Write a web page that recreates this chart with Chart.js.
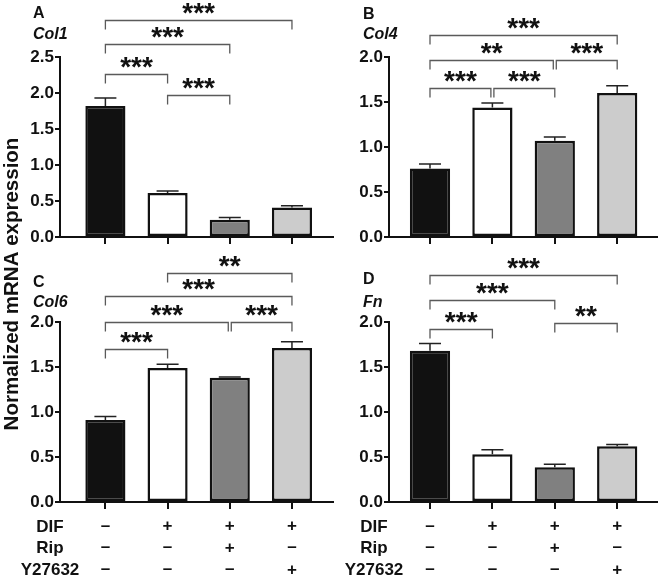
<!DOCTYPE html>
<html>
<head>
<meta charset="utf-8">
<script src="https://cdn.jsdelivr.net/npm/chart.js@4.4.1/dist/chart.umd.min.js"></script>
<style>
  body { margin: 0; background: #fff; }
  #wrap { position: relative; width: 660px; height: 577px; overflow: hidden; }
  #wrap canvas { position: absolute; left: 0; top: 0; }
</style>
</head>
<body>
<div id="wrap">
  <canvas id="cA" width="660" height="577"></canvas>
  <canvas id="cB" width="660" height="577"></canvas>
  <canvas id="cC" width="660" height="577"></canvas>
  <canvas id="cD" width="660" height="577"></canvas>
</div>
<script>
// groups: control, DIF, DIF+Rip, DIF+Y27632
const groups = ['Control', 'DIF', 'DIF + Rip', 'DIF + Y27632'];
const barColors = ['#111111', '#ffffff', '#808080', '#cccccc'];

const col1Mean = [1.82, 0.61, 0.24, 0.41];
const col1Sem  = [0.11, 0.03, 0.03, 0.025];
const col4Mean = [0.76, 1.44, 1.07, 1.60];
const col4Sem  = [0.05, 0.05, 0.04, 0.08];
const col6Mean = [0.91, 1.49, 1.38, 1.71];
const col6Sem  = [0.04, 0.04, 0.01, 0.07];
const fnMean   = [1.68, 0.53, 0.385, 0.62];
const fnSem    = [0.08, 0.05, 0.035, 0.02];

// significance brackets: [from group, to group, height (axis units), label]
const col1Sig = [[0, 3, 3.02, '***'], [0, 2, 2.68, '***'], [0, 1, 2.26, '***'], [1, 2, 1.97, '***']];
const col4Sig = [[0, 3, 2.25, '***'], [0, 2, 1.97, '**'], [2, 3, 1.97, '***'], [0, 1, 1.66, '***'], [1, 2, 1.66, '***']];
const col6Sig = [[1, 3, 2.54, '**'], [0, 3, 2.29, '***'], [0, 2, 2.0, '***'], [2, 3, 2.0, '***'], [0, 1, 1.70, '***']];
const fnSig   = [[0, 3, 2.52, '***'], [0, 2, 2.24, '***'], [0, 1, 1.92, '***'], [2, 3, 1.99, '**']];

const yTicksCol1 = [0, 0.5, 1.0, 1.5, 2.0, 2.5];
const yTicks     = [0, 0.5, 1.0, 1.5, 2.0];

// treatment table under the lower panels
const rowNames = ['DIF', 'Rip', 'Y27632'];
const difRow = ['–', '+', '+', '+'];
const ripRow = ['–', '–', '+', '–'];
const y27Row = ['–', '–', '–', '+'];

const yTitle = 'Normalized mRNA expression';

const FONT = '"Liberation Sans", Arial, Helvetica, sans-serif';
const INK = '#111';

// text centred on the ink of refText (caps by default)
function drawText(ctx, text, x, cy, align, font, refText) {
  ctx.font = font;
  ctx.textAlign = align;
  ctx.textBaseline = 'alphabetic';
  const m = ctx.measureText(refText || text);
  ctx.fillText(text, x, cy + (m.actualBoundingBoxAscent - m.actualBoundingBoxDescent) / 2);
}

function makeDecor(p) {
  return {
    id: 'decor' + p.letter,
    afterDatasetsDraw(chart) {
      const ctx = chart.ctx;
      const xs = chart.scales.x, ys = chart.scales.y;
      ctx.save();
      // error bars (upper only)
      ctx.strokeStyle = '#222';
      ctx.lineWidth = 1.5;
      p.mean.forEach((m, i) => {
        const x = xs.getPixelForValue(i);
        const y0 = ys.getPixelForValue(m);
        const y1 = ys.getPixelForValue(m + p.sem[i]);
        ctx.beginPath();
        ctx.moveTo(x, y0); ctx.lineTo(x, y1);
        ctx.moveTo(x - 11, y1); ctx.lineTo(x + 11, y1);
        ctx.stroke();
      });
      ctx.restore();
    },
    afterDraw(chart) {
      const ctx = chart.ctx;
      const xs = chart.scales.x, ys = chart.scales.y;
      ctx.save();
      ctx.fillStyle = INK;
      // panel letter and gene name
      drawText(ctx, p.letter, p.labelX, p.letterY, 'left', 'bold 16px ' + FONT, 'H');
      drawText(ctx, p.gene, p.labelX, p.geneY, 'left', 'italic bold 16px ' + FONT, 'H');

      // brackets
      ctx.strokeStyle = '#5a5a5a';
      ctx.lineWidth = 1.3;
      p.sig.forEach(([a, b, h, label]) => {
        const shared = (idx) => p.sig.some(s => s[2] === h && ((s[0] === idx && s[1] !== b) || (s[1] === idx && s[0] !== a)));
        let xa = xs.getPixelForValue(a);
        let xb = xs.getPixelForValue(b);
        if (shared(a)) xa += 1.5;
        if (shared(b)) xb -= 1.5;
        const y = Math.round(ys.getPixelForValue(h)) + 0.5;
        ctx.beginPath();
        ctx.moveTo(xa, y + 9); ctx.lineTo(xa, y); ctx.lineTo(xb, y); ctx.lineTo(xb, y + 9);
        ctx.stroke();
        drawText(ctx, label, (xa + xb) / 2, y - 12.5, 'center', 'bold 28px ' + FONT, '*');
      });

      // treatment table
      if (p.table) {
        const rows = [difRow, ripRow, y27Row];
        const rowY = [525.5, 547, 569];
        rows.forEach((row, r) => {
          drawText(ctx, rowNames[r], p.tableLabelX, rowY[r], 'center', 'bold 17px ' + FONT, 'H');
          row.forEach((s, i) => {
            drawText(ctx, s, xs.getPixelForValue(i), rowY[r], 'center', 'bold 17px ' + FONT);
          });
        });
      }

      // shared y-axis title
      if (p.yTitle) {
        ctx.translate(11, 284);
        ctx.rotate(-Math.PI / 2);
        drawText(ctx, yTitle, 0, 0, 'center', 'bold 20.5px ' + FONT, 'H');
      }
      ctx.restore();
    }
  };
}

const panels = [
  { canvas: 'cA', letter: 'A', gene: 'Col1', mean: col1Mean, sem: col1Sem, sig: col1Sig, ticks: yTicksCol1,
    area: { left: 60, top: 57, right: 333, bottom: 237 }, xMin: -0.73, xMax: 3.66,
    labelX: 33, letterY: 12, geneY: 32.5, table: false, yTitle: true },
  { canvas: 'cB', letter: 'B', gene: 'Col4', mean: col4Mean, sem: col4Sem, sig: col4Sig, ticks: yTicks,
    area: { left: 389, top: 57, right: 657, bottom: 237 }, xMin: -0.657, xMax: 3.638,
    labelX: 363, letterY: 12.5, geneY: 33, table: false },
  { canvas: 'cC', letter: 'C', gene: 'Col6', mean: col6Mean, sem: col6Sem, sig: col6Sig, ticks: yTicks,
    area: { left: 60, top: 322, right: 333, bottom: 502 }, xMin: -0.73, xMax: 3.66,
    labelX: 33, letterY: 281, geneY: 301, table: true, tableLabelX: 50 },
  { canvas: 'cD', letter: 'D', gene: 'Fn', mean: fnMean, sem: fnSem, sig: fnSig, ticks: yTicks,
    area: { left: 389, top: 322, right: 657, bottom: 502 }, xMin: -0.657, xMax: 3.638,
    labelX: 363, letterY: 277.5, geneY: 300.5, table: true, tableLabelX: 374 }
];

const Y_W = 40, X_H = 10;

panels.forEach(p => {
  const ticks = p.ticks;
  new Chart(document.getElementById(p.canvas), {
    type: 'bar',
    data: {
      datasets: [{
        label: p.gene,
        data: p.mean.map((v, i) => ({ x: i, y: v })),
        backgroundColor: barColors,
        borderColor: '#111',
        borderWidth: 2.5,
        borderSkipped: false,
        categoryPercentage: 1,
        barPercentage: 0.645
      }]
    },
    options: {
      responsive: false,
      animation: false,
      events: [],
      layout: {
        padding: {
          left: p.area.left - Y_W,
          top: p.area.top,
          right: 660 - p.area.right,
          bottom: 577 - p.area.bottom - X_H
        }
      },
      plugins: { legend: { display: false }, tooltip: { enabled: false } },
      scales: {
        x: {
          type: 'linear',
          offset: false,
          min: p.xMin,
          max: p.xMax,
          afterBuildTicks: s => { s.ticks = groups.map((g, i) => ({ value: i })); },
          afterFit: s => { s.height = X_H; },
          ticks: { display: false },
          grid: { offset: false, drawOnChartArea: false, drawTicks: true, tickLength: 7, color: INK, lineWidth: 2 },
          border: { display: true, color: INK, width: 2 }
        },
        y: {
          min: 0,
          max: ticks[ticks.length - 1],
          afterBuildTicks: s => { s.ticks = ticks.map(v => ({ value: v })); },
          afterFit: s => { s.width = Y_W; },
          ticks: {
            callback: v => v.toFixed(1),
            color: INK,
            padding: 1,
            font: { family: FONT, size: 17, weight: 'bold' }
          },
          grid: { drawOnChartArea: false, drawTicks: true, tickLength: 5, color: INK, lineWidth: 2 },
          border: { display: true, color: INK, width: 2 }
        }
      }
    },
    plugins: [makeDecor(p)]
  });
});
</script>
</body>
</html>
